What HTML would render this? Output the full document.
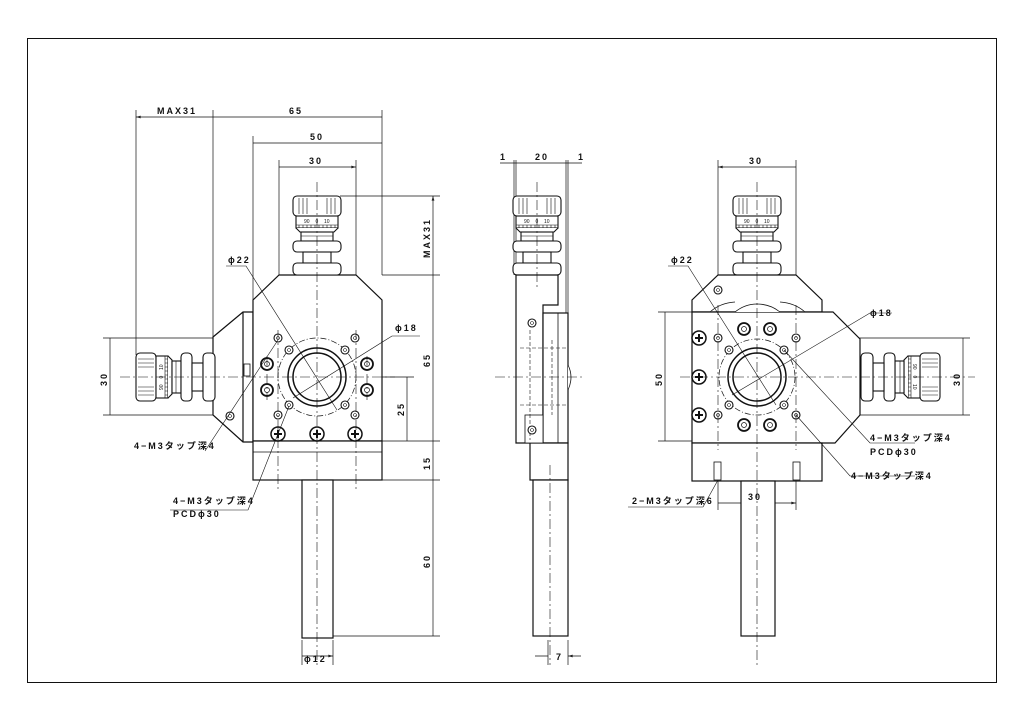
<!DOCTYPE html>
<html><head><meta charset="utf-8"><style>
html,body{margin:0;padding:0;background:#fff}
svg{display:block}
text{font-family:"Liberation Sans","Noto Sans CJK JP",sans-serif;font-size:9px;font-weight:bold;letter-spacing:2px;fill:#111}
</style></head><body>
<svg width="1024" height="724" viewBox="0 0 1024 724" xmlns="http://www.w3.org/2000/svg">
<defs>
<marker id="a" viewBox="0 0 10 6" refX="10" refY="3" markerWidth="7" markerHeight="4" orient="auto-start-reverse"><path d="M0,0L10,3L0,6z" fill="#222"/></marker>
<g id="mic" fill="#fff" stroke="#111" stroke-width="1.1">
<rect x="-24" y="0" width="48" height="20" rx="4"/>
<path d="M-18,2v16M-14,2v16M-10,2v16M10,2v16M14,2v16M18,2v16" stroke-width="0.6"/>
<rect x="-21" y="20" width="42" height="12"/>
<path d="M-21,29h42M-18,29v3M-14,29v3M-10,29v3M-6,29v3M-2,29v3M2,29v3M6,29v3M10,29v3M14,29v3M18,29v3" stroke-width="0.6"/>
<path d="M-21,32L-17,36H17L21,32"/>
<rect x="-16" y="36" width="32" height="9"/>
<path d="M-16,40h32" stroke-width="0.6"/>
<rect x="-24" y="45" width="48" height="11" rx="4"/>
<rect x="-14" y="56" width="28" height="11"/>
<rect x="-24" y="67" width="48" height="12" rx="4"/>
<g stroke="none" fill="#111" style="font-size:5px;letter-spacing:0;font-weight:normal">
<text x="-13" y="27" style="font-size:5px;letter-spacing:0;font-weight:normal">90</text>
<text x="-1.5" y="27" style="font-size:5px;letter-spacing:0;font-weight:normal">0</text>
<text x="7" y="27" style="font-size:5px;letter-spacing:0;font-weight:normal">10</text>
</g>
</g>
<g id="sh"><circle r="4" fill="#fff" stroke="#111" stroke-width="1.1"/><circle r="1.5" fill="none" stroke="#111" stroke-width="0.6"/></g>
<g id="bh"><circle r="6" fill="#fff" stroke="#111" stroke-width="1.8"/><circle r="2.5" fill="none" stroke="#111" stroke-width="0.7"/></g>
<g id="sc"><circle r="7" fill="#fff" stroke="#111" stroke-width="1.5"/><path d="M-4,0h8M0,-4v8" stroke="#111" stroke-width="2"/></g>
</defs>
<rect x="27.5" y="38.5" width="969" height="644" fill="none" stroke="#111" stroke-width="1"/>

<g stroke="#111" stroke-width="0.7" fill="none">
<path d="M136,110V355M213,110V338M382,110V275M253,136V300M279,160V275M356,160V275"/>
<path d="M136,117H213M213,117H382M253,143H382M279,167H356" marker-start="url(#a)" marker-end="url(#a)"/>
<path d="M340,196H440M382,275H440M382,441H440M382,480H440M333,636H440M370,377H414M103,338H230M103,415H230"/>
<path d="M433,196V275M433,275V441M433,441V480M433,480V636M407,377V441M110,338V415M302,656H333" marker-start="url(#a)" marker-end="url(#a)"/>
<path d="M302,640V665M333,640V665"/>
<path d="M514,160V275M516,160V275M566,160V313M568,160V313M548,640V665M568,640V665"/>
<path d="M500,163H514M530,163H514M516,163H566M582,163H568M552,163H568M535,656H548M581,656H568" marker-end="url(#a)"/>
<path d="M718,160V275M796,160V275M658,312H692M658,441H692M822,338H970M860,415H970M718,465V510M796,465V510"/>
<path d="M718,167H796M665,312V441M963,338V415M718,503H796" marker-start="url(#a)" marker-end="url(#a)"/>
</g>

<g stroke="#111" stroke-width="1.2" fill="#fff">
<path d="M213,337L243,312H253V442H243L213,415Z"/>
<path d="M243,312V442"/>
<path d="M279,275H356L382,300V441H253V300Z"/>
<rect x="253" y="441" width="129" height="39"/>
<path d="M253,452H382" stroke-width="0.8"/>
<rect x="302" y="480" width="31" height="158"/>
<rect x="244" y="364" width="6" height="12" stroke-width="0.8"/>
<circle cx="317" cy="377" r="29" stroke-width="1.5"/>
<circle cx="317" cy="377" r="24" stroke-width="1.5"/>
</g>
<circle cx="317" cy="377" r="39" fill="none" stroke="#111" stroke-width="0.7" stroke-dasharray="6,2,1,2"/>
<use href="#mic" transform="translate(317,196)"/>
<use href="#mic" transform="translate(136,377) rotate(-90)"/>
<use href="#sh" x="278" y="338"/><use href="#sh" x="355" y="338"/><use href="#sh" x="278" y="415"/><use href="#sh" x="355" y="415"/>
<use href="#sh" x="289" y="350"/><use href="#sh" x="345" y="350"/><use href="#sh" x="289" y="405"/><use href="#sh" x="345" y="405"/>
<use href="#sh" x="230" y="416"/>
<use href="#bh" x="267" y="364"/><use href="#bh" x="367" y="364"/><use href="#bh" x="267" y="390"/><use href="#bh" x="367" y="390"/>
<use href="#sc" x="278" y="434"/><use href="#sc" x="317" y="434"/><use href="#sc" x="355" y="434"/>
<g stroke="#111" stroke-width="0.6" fill="none" stroke-dasharray="10,3,2,3">
<path d="M317,182V665M120,377H395M278,330V490M356,330V490M267,356V400M367,356V400"/>
</g>
<g stroke="#111" stroke-width="0.6" fill="none">
<path d="M226,266H246L337,410M293,398L392,336H420M205,451L278,340M248,510L289,406M170,510H248"/>
</g>
<text x="228" y="263">ϕ22</text>
<text x="395" y="331">ϕ18</text>
<text x="134" y="449">4−M3タップ深4</text>
<text x="173" y="504">4−M3タップ深4</text>
<text x="173" y="517">PCDϕ30</text>
<text x="157" y="114">MAX31</text>
<text x="289" y="114">65</text>
<text x="310" y="140">50</text>
<text x="309" y="164">30</text>
<text x="304" y="662">ϕ12</text>
<text transform="translate(430,258) rotate(-90)">MAX31</text>
<text transform="translate(430,367) rotate(-90)">65</text>
<text transform="translate(430,470) rotate(-90)">15</text>
<text transform="translate(430,568) rotate(-90)">60</text>
<text transform="translate(404,416) rotate(-90)">25</text>
<text transform="translate(107,386) rotate(-90)">30</text>

<use href="#mic" transform="translate(537,196)"/>
<g stroke="#111" stroke-width="1.2" fill="#fff">
<path d="M516,275H558V305H543V443H516Z"/>
<rect x="543" y="313" width="25" height="130"/>
<path d="M558,313V443" stroke-width="0.8"/>
<path d="M530,443H568V480H530Z"/>
<rect x="533" y="480" width="35" height="156"/>
<rect x="525" y="415" width="18" height="28" stroke-width="0.8"/>
<path d="M568,365Q574,377 568,390" stroke-width="0.8"/>
</g>
<g stroke="#111" stroke-width="0.6" fill="none" stroke-dasharray="4,2">
<path d="M530,330V440M552,340V415M520,348H568M520,405H568"/>
</g>
<use href="#sh" x="532" y="323"/><use href="#sh" x="532" y="430"/>
<g stroke="#111" stroke-width="0.6" fill="none" stroke-dasharray="10,3,2,3"><path d="M537,182V290M495,377H585M550,465V665"/></g>
<text x="500" y="160">1</text><text x="535" y="160">20</text><text x="578" y="160">1</text>
<text x="556" y="660">7</text>

<use href="#mic" transform="translate(757,196)"/>
<g stroke="#111" stroke-width="1.2" fill="#fff">
<path d="M718,275H796L822,300V312H692V300Z"/>
<path d="M692,312H833L860,339V415L835,443H692Z"/>
<rect x="692" y="443" width="130" height="38"/>
<rect x="741" y="481" width="34" height="155"/>
<path d="M710,312Q720,303 735,302M780,302Q795,303 805,312M735,312Q745,304 757,304Q770,304 780,312" stroke-width="0.8"/>
<circle cx="757" cy="377" r="29" stroke-width="1.5"/>
<circle cx="757" cy="377" r="24" stroke-width="1.5"/>
</g>
<circle cx="757" cy="377" r="38" fill="none" stroke="#111" stroke-width="0.7" stroke-dasharray="6,2,1,2"/>
<use href="#mic" transform="translate(940,377) rotate(90)"/>
<use href="#sh" x="718" y="338"/><use href="#sh" x="796" y="338"/><use href="#sh" x="718" y="415"/><use href="#sh" x="796" y="415"/>
<use href="#sh" x="729" y="350"/><use href="#sh" x="784" y="350"/><use href="#sh" x="729" y="405"/><use href="#sh" x="784" y="405"/>
<use href="#sh" x="718" y="290"/>
<use href="#bh" x="744" y="329"/><use href="#bh" x="770" y="329"/><use href="#bh" x="744" y="425"/><use href="#bh" x="770" y="425"/>
<use href="#sc" x="699" y="338"/><use href="#sc" x="699" y="377"/><use href="#sc" x="699" y="415"/>
<g stroke="#111" stroke-width="0.8" fill="#fff"><rect x="714" y="462" width="7" height="18"/><rect x="793" y="462" width="7" height="18"/></g>
<g stroke="#111" stroke-width="0.6" fill="none" stroke-dasharray="10,3,2,3">
<path d="M757,182V665M680,377H975M718,305V450M796,305V450"/>
</g>
<g stroke="#111" stroke-width="0.6" fill="none">
<path d="M668,266H688L776,405M732,395L870,313H892M784,350L870,443H915M796,415L850,476H915M703,507L718,480M628,507H703"/>
</g>
<text x="671" y="263">ϕ22</text>
<text x="870" y="316">ϕ18</text>
<text x="870" y="441">4−M3タップ深4</text>
<text x="870" y="455">PCDϕ30</text>
<text x="851" y="479">4−M3タップ深4</text>
<text x="632" y="504">2−M3タップ深6</text>
<text x="749" y="164">30</text>
<text x="748" y="500">30</text>
<text transform="translate(662,386) rotate(-90)">50</text>
<text transform="translate(960,386) rotate(-90)">30</text>
</svg>
</body></html>
